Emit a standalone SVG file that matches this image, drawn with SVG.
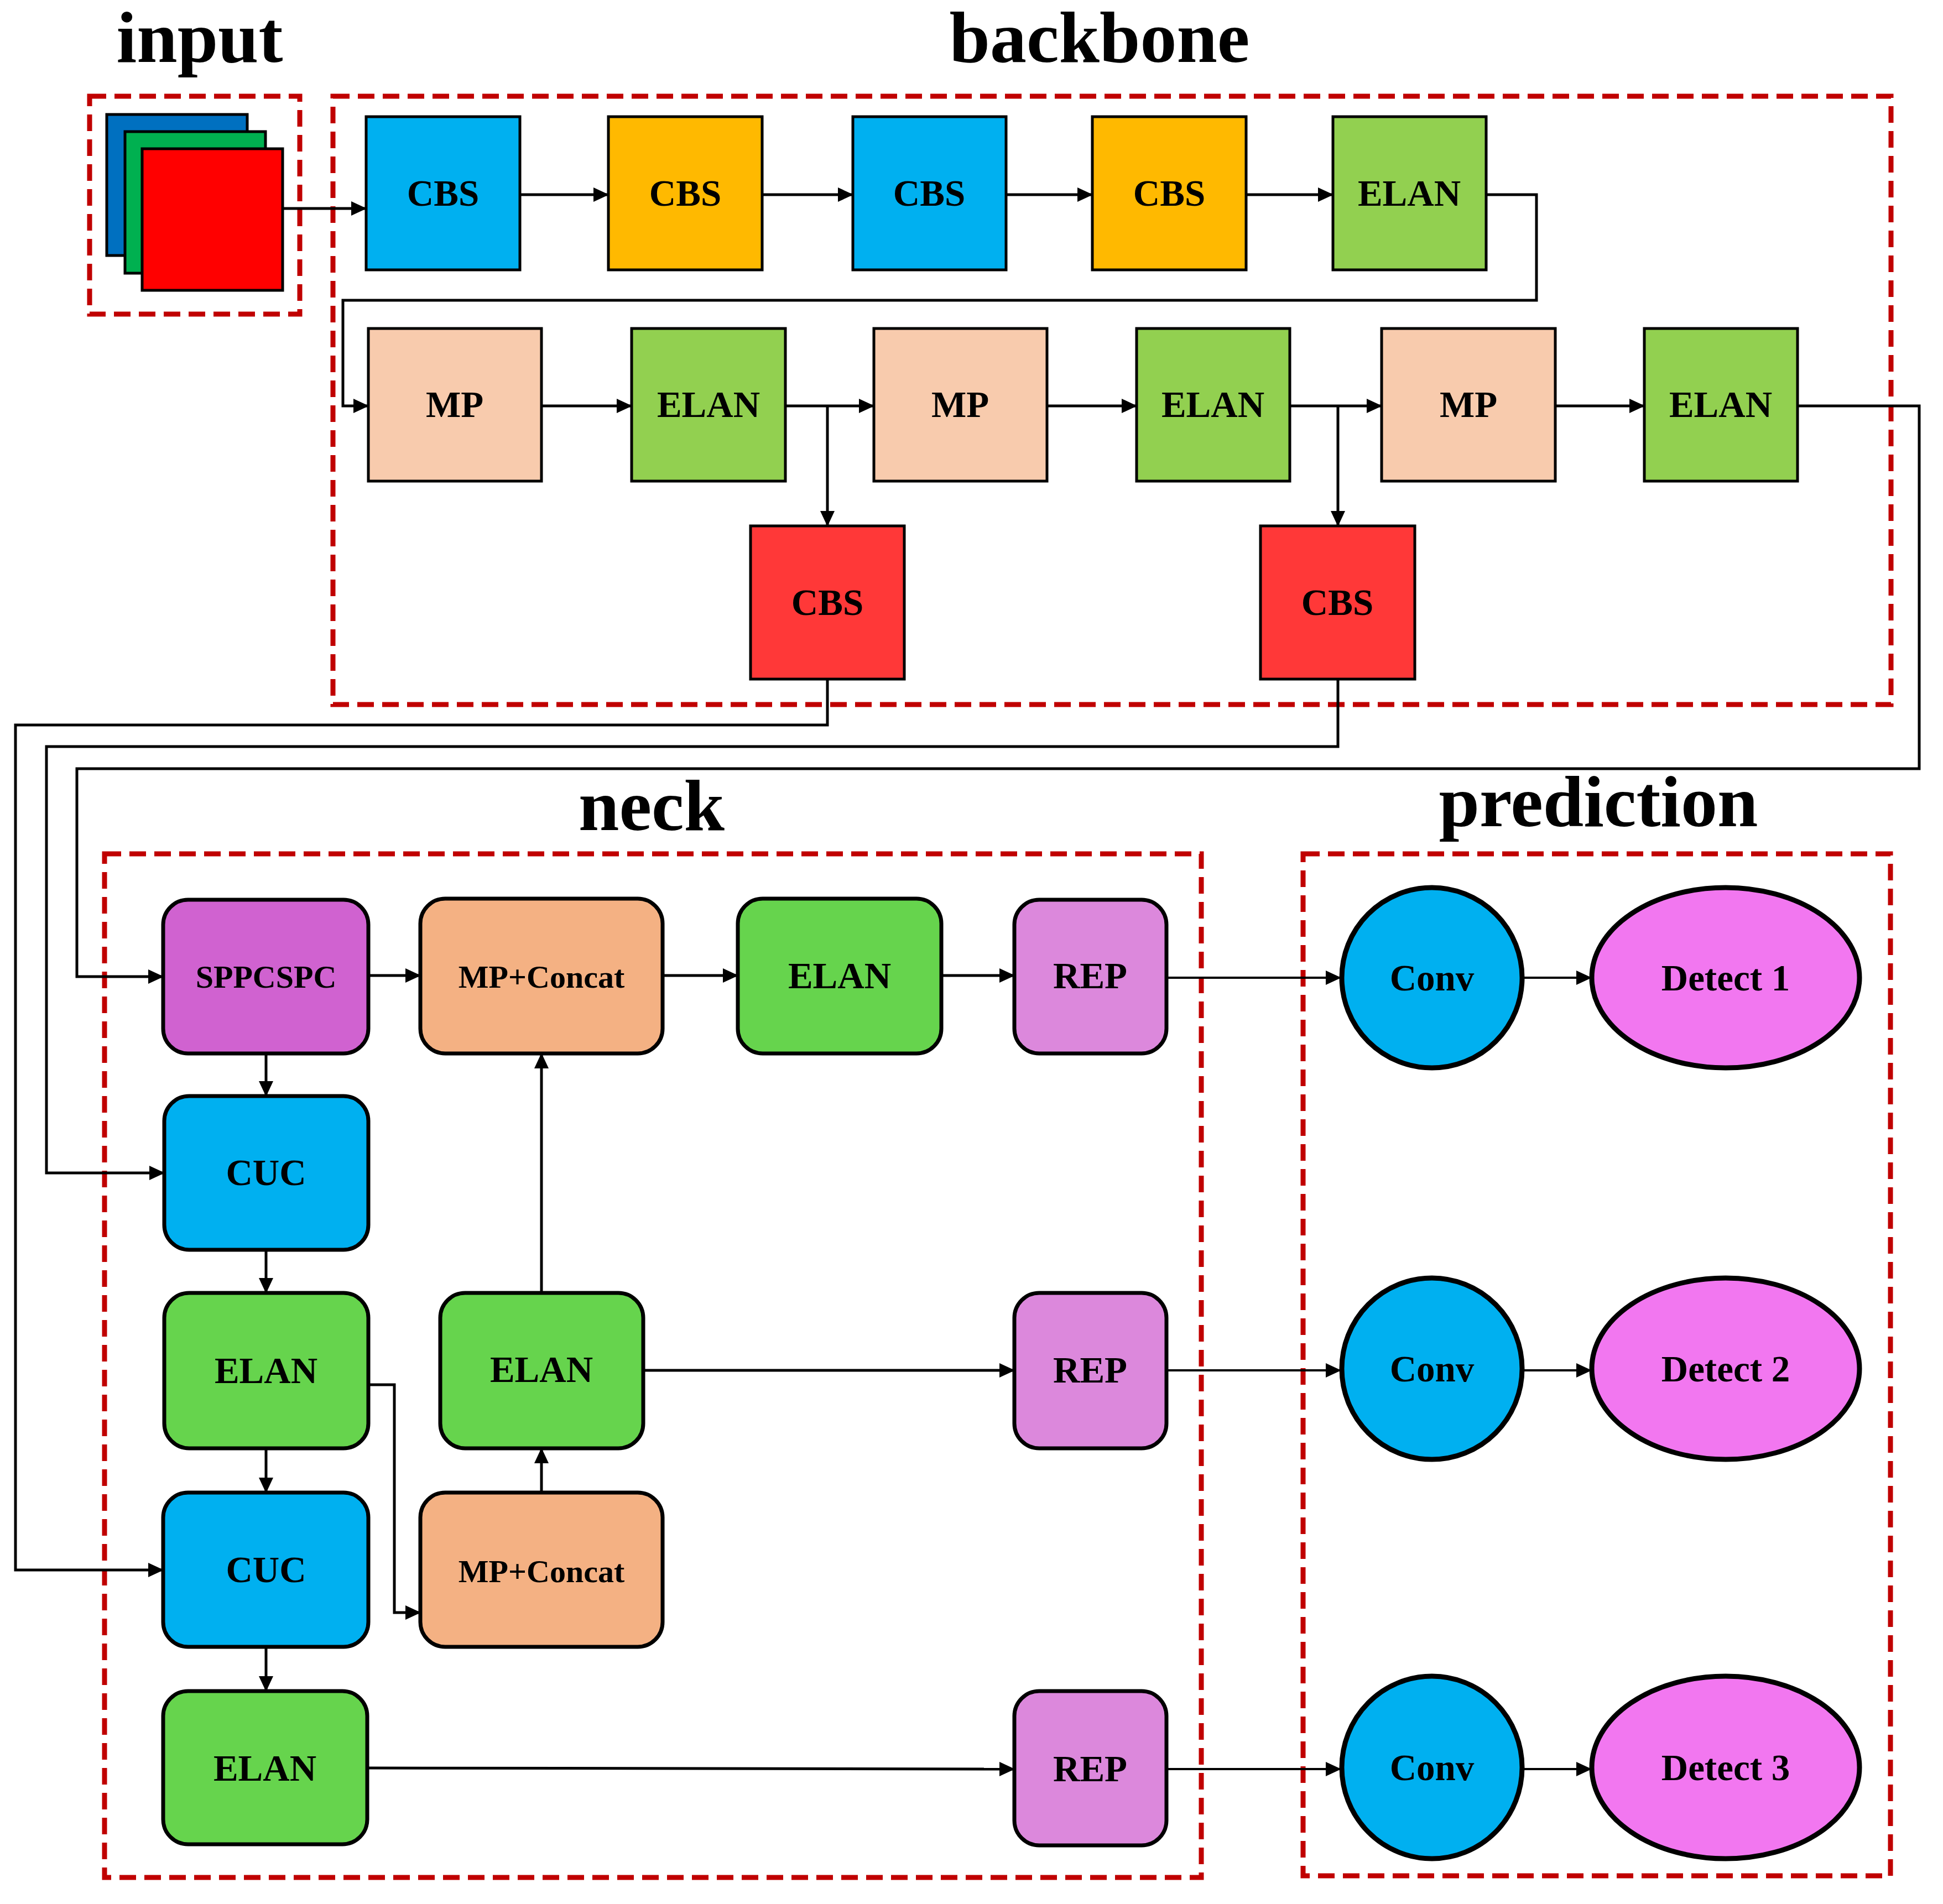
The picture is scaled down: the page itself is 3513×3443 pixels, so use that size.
<svg xmlns="http://www.w3.org/2000/svg" width="3513" height="3443" viewBox="0 0 3513 3443">
<style>
text{font-family:"Liberation Serif","Times New Roman",serif;font-weight:bold;fill:#000;text-anchor:middle}
.title{font-size:132px}
.lbl{font-size:67px}
.sm{font-size:58px}
.grp{fill:none;stroke:#C00000;stroke-width:9;stroke-dasharray:30 15}
.bb{stroke:#000;stroke-width:5}
.nk{stroke:#000;stroke-width:7}
.el{stroke:#000;stroke-width:9}
.c{fill:none;stroke:#000;stroke-width:5}
.ct{fill:none;stroke:#000;stroke-width:4}
</style>
<defs>
<marker id="ah" viewBox="0 0 28 26" refX="27" refY="13" markerWidth="28" markerHeight="26" markerUnits="userSpaceOnUse" orient="auto">
<path d="M0,0 L28,13 L0,26 z" fill="#000"/>
</marker>
</defs>
<rect width="3513" height="3443" fill="#fff"/>

<g id="titles">
<text class="title" x="361" y="112">input</text>
<text class="title" x="1988" y="112">backbone</text>
<text class="title" x="1178" y="1501">neck</text>
<text class="title" x="2890" y="1494">prediction</text>
</g>

<g id="groups">
<rect class="grp" x="162" y="174" width="380" height="394"/>
<rect class="grp" x="602" y="174" width="2817" height="1100"/>
<rect class="grp" x="189" y="1544" width="1983" height="1851"/>
<rect class="grp" x="2356" y="1544" width="1062" height="1848"/>
</g>

<g id="connectors">
<polyline class="c" points="511,377 662,377" marker-end="url(#ah)"/>
<polyline class="c" points="940,352 1100,352" marker-end="url(#ah)"/>
<polyline class="c" points="1378,352 1542,352" marker-end="url(#ah)"/>
<polyline class="c" points="1819,352 1975,352" marker-end="url(#ah)"/>
<polyline class="c" points="2253,352 2410,352" marker-end="url(#ah)"/>
<polyline class="c" points="2687,352 2778,352 2778,543 620,543 620,734 666,734" marker-end="url(#ah)"/>
<polyline class="c" points="979,734 1142,734" marker-end="url(#ah)"/>
<polyline class="c" points="1420,734 1580,734" marker-end="url(#ah)"/>
<polyline class="c" points="1496,734 1496,951" marker-end="url(#ah)"/>
<polyline class="c" points="1893,734 2055,734" marker-end="url(#ah)"/>
<polyline class="c" points="2332,734 2498,734" marker-end="url(#ah)"/>
<polyline class="c" points="2419,734 2419,951" marker-end="url(#ah)"/>
<polyline class="c" points="2812,734 2973,734" marker-end="url(#ah)"/>
<polyline class="c" points="3250,734 3470,734 3470,1390 139,1390 139,1766 295,1766" marker-end="url(#ah)"/>
<polyline class="c" points="1496,1228 1496,1311 28,1311 28,2839 295,2839" marker-end="url(#ah)"/>
<polyline class="c" points="2419,1228 2419,1350 84,1350 84,2121 297,2121" marker-end="url(#ah)"/>
<polyline class="c" points="666,1764 760,1764" marker-end="url(#ah)"/>
<polyline class="c" points="1198,1764 1334,1764" marker-end="url(#ah)"/>
<polyline class="c" points="1702,1764 1834,1764" marker-end="url(#ah)"/>
<polyline class="ct" points="2109,1768 2424,1768" marker-end="url(#ah)"/>
<polyline class="ct" points="2753,1768 2877,1768" marker-end="url(#ah)"/>
<polyline class="c" points="481,1905 481,1982" marker-end="url(#ah)"/>
<polyline class="c" points="481,2260 481,2338" marker-end="url(#ah)"/>
<polyline class="c" points="481,2619 481,2699" marker-end="url(#ah)"/>
<polyline class="c" points="481,2978 481,3058" marker-end="url(#ah)"/>
<polyline class="c" points="979,2699 979,2619" marker-end="url(#ah)"/>
<polyline class="c" points="979,2338 979,1905" marker-end="url(#ah)"/>
<polyline class="c" points="666,2504 713,2504 713,2916 760,2916" marker-end="url(#ah)"/>
<polyline class="c" points="1163,2478 1834,2478" marker-end="url(#ah)"/>
<polyline class="ct" points="2109,2478 2424,2478" marker-end="url(#ah)"/>
<polyline class="ct" points="2753,2478 2877,2478" marker-end="url(#ah)"/>
<polyline class="c" points="664,3197 1834,3199" marker-end="url(#ah)"/>
<polyline class="ct" points="2109,3199 2424,3199" marker-end="url(#ah)"/>
<polyline class="ct" points="2753,3199 2877,3199" marker-end="url(#ah)"/>
</g>

<g id="input">
<rect x="193" y="207" width="254" height="255" fill="#0070C0" class="bb"/>
<rect x="226" y="238" width="254" height="256" fill="#00B050" class="bb"/>
<rect x="257" y="269" width="254" height="256" fill="#FF0000" class="bb"/>
</g>

<g id="b_cbs1"><rect x="662" y="211" width="278" height="277" fill="#00B0F0" class="bb"/><text class="lbl" x="801" y="372">CBS</text></g>
<g id="b_cbs2"><rect x="1100" y="211" width="278" height="277" fill="#FFB900" class="bb"/><text class="lbl" x="1239" y="372">CBS</text></g>
<g id="b_cbs3"><rect x="1542" y="211" width="277" height="277" fill="#00B0F0" class="bb"/><text class="lbl" x="1680" y="372">CBS</text></g>
<g id="b_cbs4"><rect x="1975" y="211" width="278" height="277" fill="#FFB900" class="bb"/><text class="lbl" x="2114" y="372">CBS</text></g>
<g id="b_elan1"><rect x="2410" y="211" width="277" height="277" fill="#92D050" class="bb"/><text class="lbl" x="2548" y="372">ELAN</text></g>

<g id="b_mp1"><rect x="666" y="594" width="313" height="276" fill="#F8CBAD" class="bb"/><text class="lbl" x="822" y="754">MP</text></g>
<g id="b_elan2"><rect x="1142" y="594" width="278" height="276" fill="#92D050" class="bb"/><text class="lbl" x="1281" y="754">ELAN</text></g>
<g id="b_mp2"><rect x="1580" y="594" width="313" height="276" fill="#F8CBAD" class="bb"/><text class="lbl" x="1736" y="754">MP</text></g>
<g id="b_elan3"><rect x="2055" y="594" width="277" height="276" fill="#92D050" class="bb"/><text class="lbl" x="2193" y="754">ELAN</text></g>
<g id="b_mp3"><rect x="2498" y="594" width="314" height="276" fill="#F8CBAD" class="bb"/><text class="lbl" x="2655" y="754">MP</text></g>
<g id="b_elan4"><rect x="2973" y="594" width="277" height="276" fill="#92D050" class="bb"/><text class="lbl" x="3111" y="754">ELAN</text></g>

<g id="b_cbs5"><rect x="1357" y="951" width="278" height="277" fill="#FF3838" class="bb" stroke-width="6"/><text class="lbl" x="1496" y="1112">CBS</text></g>
<g id="b_cbs6"><rect x="2279" y="951" width="279" height="277" fill="#FF3838" class="bb" stroke-width="6"/><text class="lbl" x="2418" y="1112">CBS</text></g>

<g id="n_sppcspc"><rect x="295" y="1627" width="371" height="278" rx="45" fill="#D062D0" class="nk"/><text class="sm" x="481" y="1786">SPPCSPC</text></g>
<g id="n_mpc1"><rect x="760" y="1625" width="438" height="280" rx="45" fill="#F4B183" class="nk"/><text class="sm" x="979" y="1786">MP+Concat</text></g>
<g id="n_elan1"><rect x="1334" y="1625" width="368" height="280" rx="45" fill="#66D44D" class="nk"/><text class="lbl" x="1518" y="1787">ELAN</text></g>
<g id="n_rep1"><rect x="1834" y="1627" width="275" height="278" rx="45" fill="#DC88DC" class="nk"/><text class="lbl" x="1971" y="1787">REP</text></g>
<g id="n_cuc1"><rect x="297" y="1982" width="369" height="278" rx="45" fill="#00B0F0" class="nk"/><text class="lbl" x="481" y="2143">CUC</text></g>
<g id="n_elan2"><rect x="297" y="2338" width="369" height="281" rx="45" fill="#66D44D" class="nk"/><text class="lbl" x="481" y="2501">ELAN</text></g>
<g id="n_elan3"><rect x="796" y="2338" width="367" height="281" rx="45" fill="#66D44D" class="nk"/><text class="lbl" x="979" y="2499">ELAN</text></g>
<g id="n_rep2"><rect x="1834" y="2338" width="275" height="281" rx="45" fill="#DC88DC" class="nk"/><text class="lbl" x="1971" y="2500">REP</text></g>
<g id="n_cuc2"><rect x="295" y="2699" width="371" height="279" rx="45" fill="#00B0F0" class="nk"/><text class="lbl" x="481" y="2861">CUC</text></g>
<g id="n_mpc2"><rect x="760" y="2699" width="438" height="279" rx="45" fill="#F4B183" class="nk"/><text class="sm" x="979" y="2861">MP+Concat</text></g>
<g id="n_elan4"><rect x="295" y="3058" width="369" height="277" rx="45" fill="#66D44D" class="nk"/><text class="lbl" x="479" y="3220">ELAN</text></g>
<g id="n_rep3"><rect x="1834" y="3058" width="275" height="279" rx="45" fill="#DC88DC" class="nk"/><text class="lbl" x="1971" y="3221">REP</text></g>

<g id="p_conv1"><ellipse cx="2589" cy="1768" rx="163" ry="163" fill="#00B0F0" class="el"/><text class="lbl" x="2589" y="1791">Conv</text></g>
<g id="p_det1"><ellipse cx="3120" cy="1768" rx="242" ry="163" fill="#F277F0" class="el"/><text class="lbl" x="3120" y="1791">Detect 1</text></g>
<g id="p_conv2"><ellipse cx="2589" cy="2475" rx="163" ry="164" fill="#00B0F0" class="el"/><text class="lbl" x="2589" y="2498">Conv</text></g>
<g id="p_det2"><ellipse cx="3120" cy="2475" rx="242" ry="164" fill="#F277F0" class="el"/><text class="lbl" x="3120" y="2498">Detect 2</text></g>
<g id="p_conv3"><ellipse cx="2589" cy="3196" rx="163" ry="165" fill="#00B0F0" class="el"/><text class="lbl" x="2589" y="3219">Conv</text></g>
<g id="p_det3"><ellipse cx="3120" cy="3196" rx="242" ry="165" fill="#F277F0" class="el"/><text class="lbl" x="3120" y="3219">Detect 3</text></g>
</svg>
